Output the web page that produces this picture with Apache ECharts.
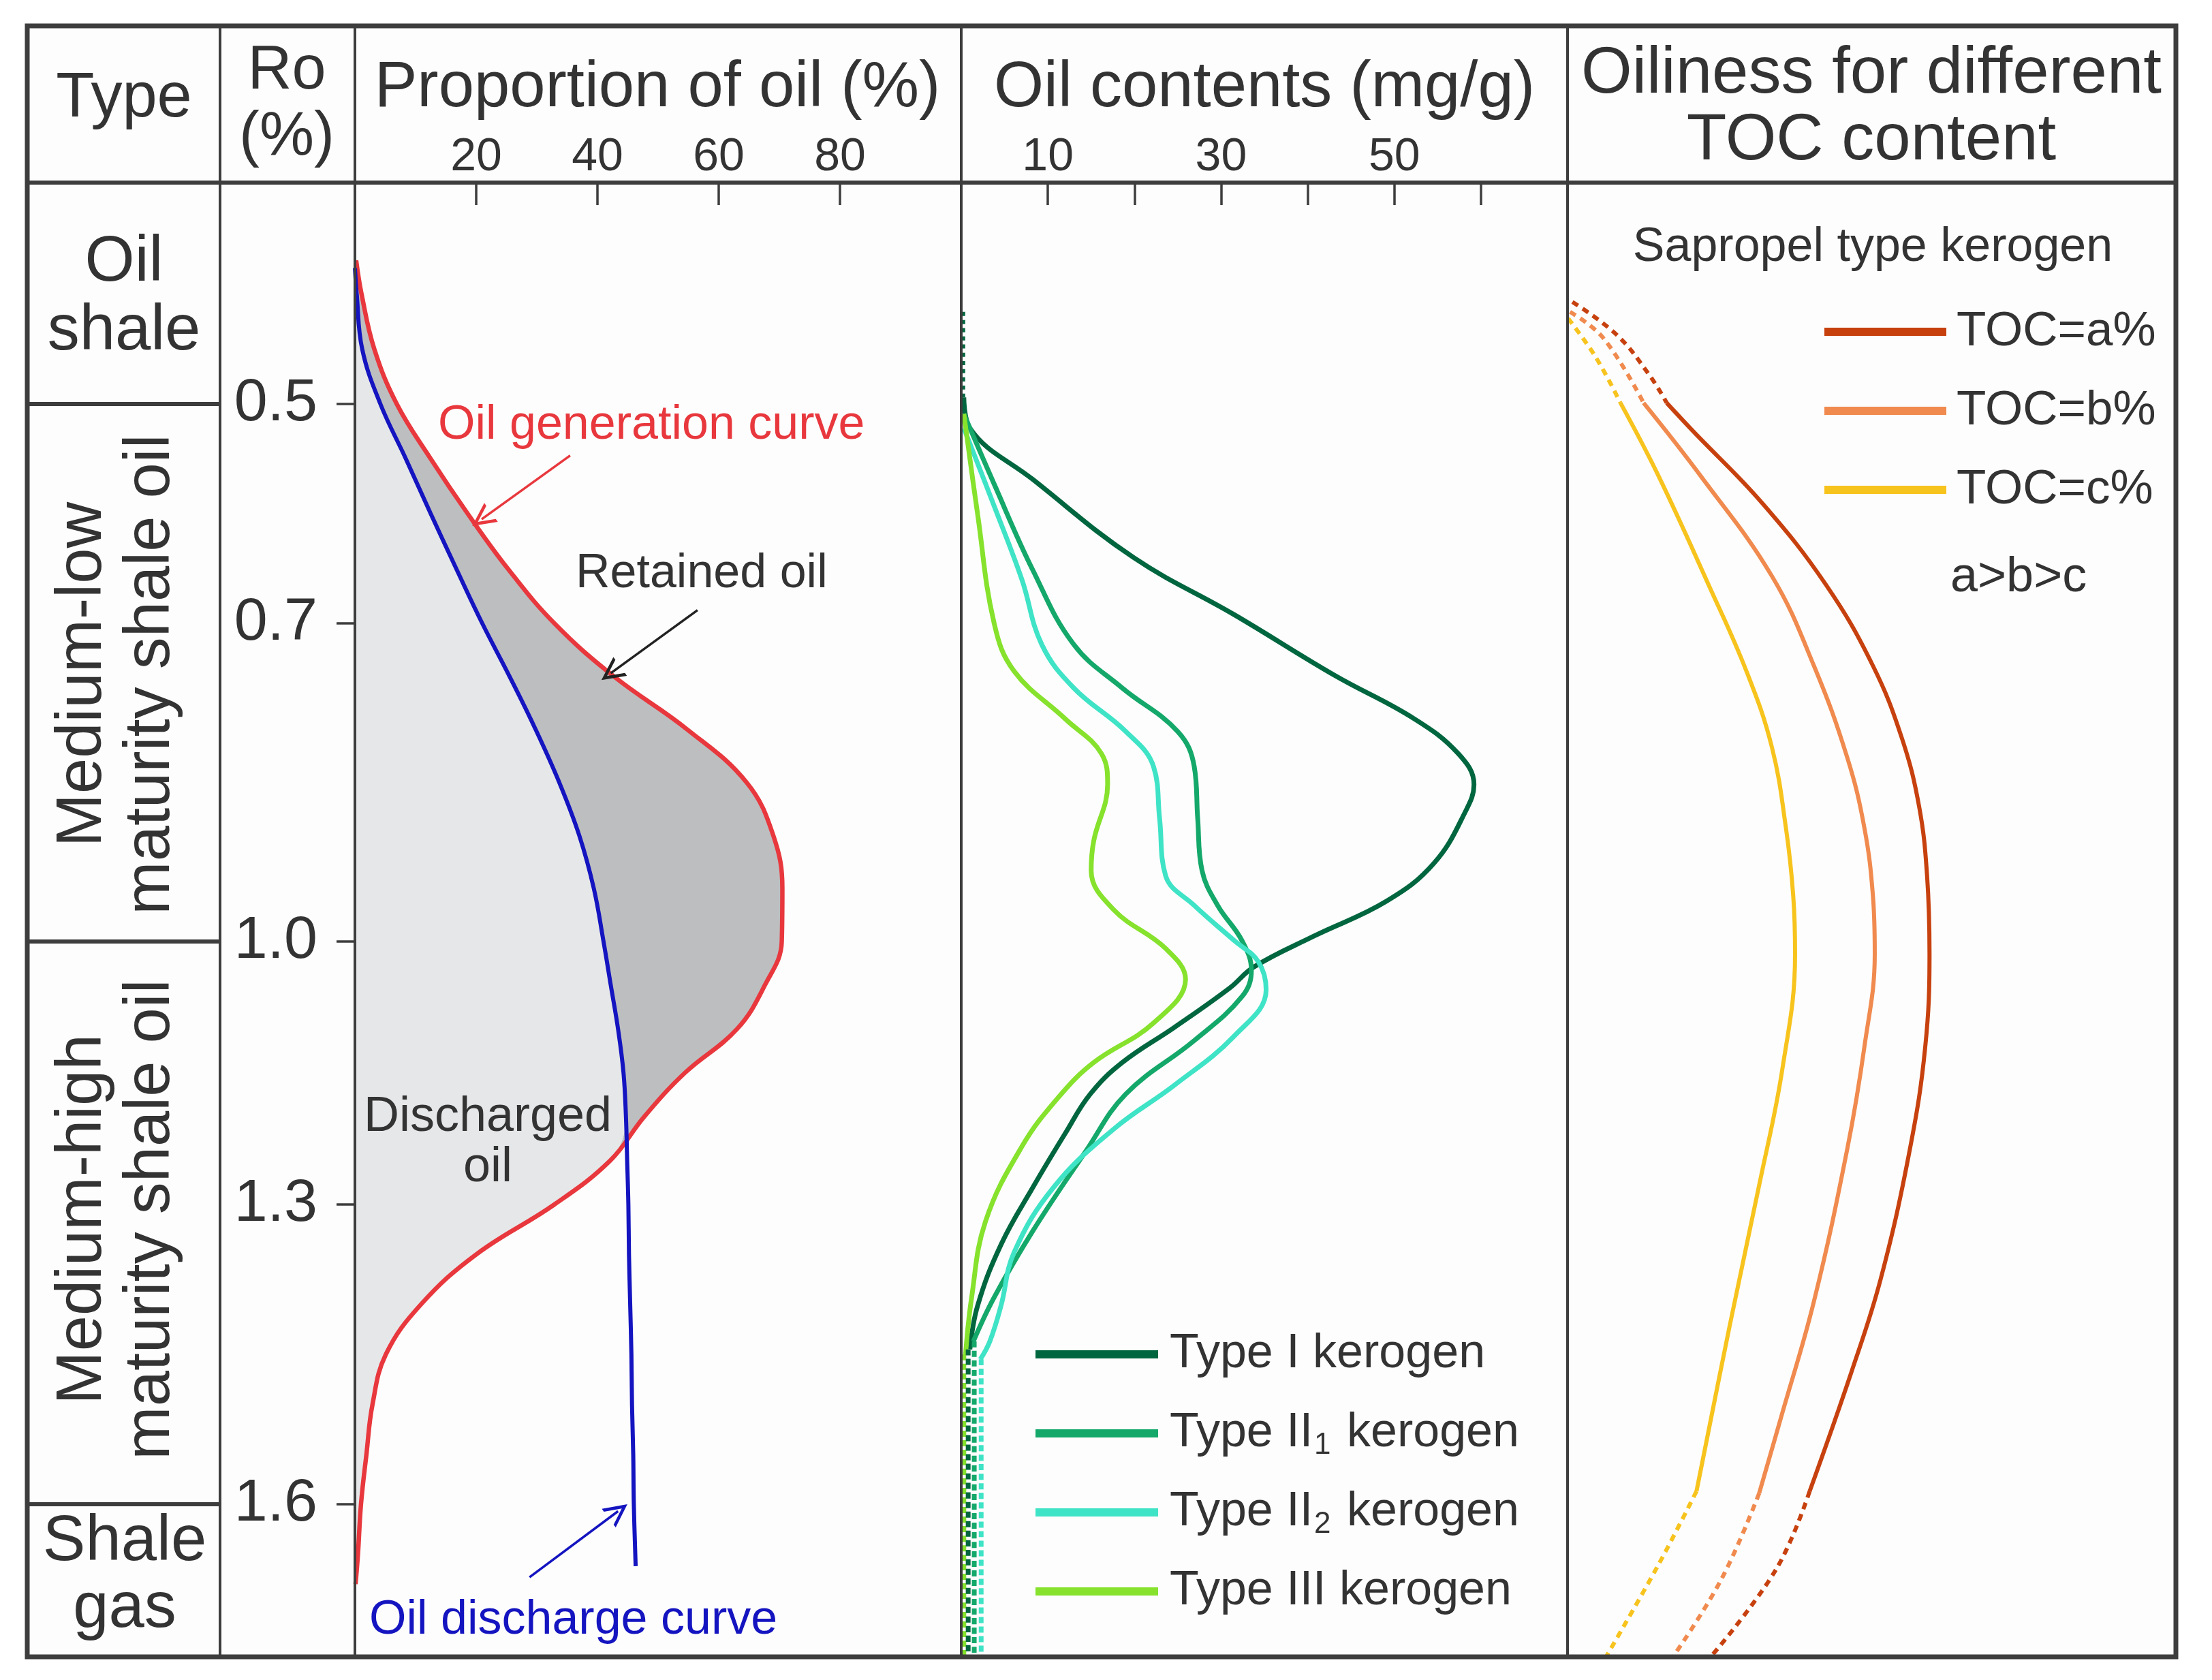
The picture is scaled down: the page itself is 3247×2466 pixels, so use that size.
<!DOCTYPE html>
<html>
<head>
<meta charset="utf-8">
<script src="https://cdn.jsdelivr.net/npm/echarts@6/dist/echarts.min.js"></script>
<style>
html,body{margin:0;padding:0;background:#ffffff;}
#c{width:3247px;height:2466px;}
</style>
</head>
<body>
<div id="c"></div>
<script>
// ---------------- DATA ----------------
const roTicks = [0.5, 0.7, 1.0, 1.3, 1.6];
const proportionTicks = [20, 40, 60, 80];
const contentTicks = [10, 20, 30, 40, 50, 60];
const contentLabels = [10, 30, 50];

// Left panel: proportion of oil (%) vs Ro
const genRo  = [0.369,0.40,0.45,0.50,0.55,0.60,0.65,0.70,0.75,0.80,0.85,0.90,0.95,1.00,1.05,1.10,1.15,1.20,1.25,1.30,1.35,1.40,1.45,1.50,1.55,1.60,1.65,1.68];
const genPct = [0.2,1.1,3.2,6.9,12.5,18.6,25.2,32.9,42.7,54.8,64.6,69.0,70.5,70.4,67.6,63.0,54.4,47.7,42.1,32.9,20.0,10.9,5.1,2.9,1.9,1.0,0.5,0.1];
const disRo  = [0.376,0.40,0.45,0.50,0.55,0.60,0.65,0.70,0.75,0.80,0.85,0.90,0.95,1.00,1.05,1.10,1.15,1.20,1.25,1.30,1.35,1.40,1.45,1.50,1.55,1.60,1.662];
const disPct = [0.0,0.3,1.2,4.2,8.4,12.5,16.7,21.0,25.5,29.8,33.7,37.0,39.4,41.0,42.2,43.4,44.3,44.7,44.9,45.1,45.2,45.4,45.6,45.7,45.9,46.0,46.3];

// Middle panel: oil contents (mg/g) vs Ro  ([Ro, value])
const typeI   = [[0.494,0.3],[0.522,1.0],[0.569,8.3],[0.640,19.9],[0.692,31.5],[0.749,43.1],[0.790,52.3],[0.823,57.4],[0.852,59.2],[0.876,58.3],[0.926,54.6],[0.962,49.1],[0.995,40.7],[1.029,33.8],[1.053,31.0],[1.098,24.6],[1.138,18.6],[1.174,14.9],[1.219,12.0],[1.280,8.3],[1.340,4.6],[1.401,1.9],[1.445,1.0]];
const typeII1 = [[0.509,0.3],[0.573,3.8],[0.652,8.3],[0.720,13.0],[0.761,18.6],[0.802,25.0],[0.835,26.9],[0.884,27.3],[0.933,27.8],[0.966,29.6],[0.999,32.4],[1.033,33.5],[1.063,32.4],[1.113,26.9],[1.174,19.0],[1.239,14.4],[1.326,8.3],[1.393,3.8],[1.437,1.4]];
const typeII2 = [[0.522,0.3],[0.593,3.8],[0.660,7.0],[0.720,9.3],[0.761,13.0],[0.802,19.0],[0.835,22.2],[0.884,22.9],[0.938,23.6],[0.966,26.9],[0.999,31.5],[1.023,34.3],[1.055,35.2],[1.108,31.5],[1.164,24.6],[1.214,17.6],[1.280,10.7],[1.348,6.1],[1.401,4.6],[1.437,3.3],[1.455,2.2]];
const typeIII = [[0.509,0.3],[0.601,1.9],[0.700,3.8],[0.745,6.1],[0.790,12.0],[0.823,16.2],[0.852,16.9],[0.905,15.3],[0.933,15.0],[0.970,17.6],[1.008,23.6],[1.043,25.9],[1.093,22.2],[1.138,15.3],[1.178,11.2],[1.234,7.0],[1.317,2.8],[1.393,1.2],[1.450,0.5]];
const contentTopDash = [[0.416,0.3],[0.494,0.3]];
const tailI   = [[1.445,0.8],[1.753,0.8]];
const tailII1 = [[1.437,1.5],[1.753,1.5]];
const tailII2 = [[1.455,2.3],[1.753,2.3]];
const tailIII = [[1.450,0.3],[1.753,0.3]];

// Right panel: oiliness (relative) vs Ro
const tocA = [[0.499,16.3],[0.524,20.5],[0.591,32.1],[0.665,42.5],[0.740,50.2],[0.809,55.0],[0.873,57.8],[0.938,59.1],[1.014,59.5],[1.120,58.8],[1.236,56.3],[1.374,51.5],[1.467,46.7],[1.587,39.8]];
const tocB = [[0.499,12.5],[0.565,21.8],[0.657,33.6],[0.740,40.5],[0.827,46.0],[0.893,48.8],[0.957,50.2],[1.014,50.5],[1.120,48.8],[1.236,46.0],[1.397,40.5],[1.513,35.1],[1.589,31.5]];
const tocC = [[0.499,8.7],[0.565,14.9],[0.665,23.2],[0.745,29.4],[0.817,33.6],[0.893,35.9],[0.957,37.1],[1.014,37.4],[1.146,35.3],[1.278,31.5],[1.420,26.7],[1.587,21.2]];
const tocAHead = [[0.407,0.8],[0.437,8.1],[0.474,13.5],[0.499,16.3]];
const tocBHead = [[0.416,0.4],[0.440,5.9],[0.499,12.5]];
const tocCHead = [[0.422,0.1],[0.457,4.6],[0.499,8.7]];
const tocATail = [[1.587,39.8],[1.665,34.3],[1.753,23.5]];
const tocBTail = [[1.589,31.5],[1.675,25.3],[1.753,17.3]];
const tocCTail = [[1.587,21.2],[1.661,14.9],[1.753,6.3]];

// ---------------- Ro axis scale (non-uniform, as in the figure) ----------------
const roScaleKnots = [0.5, 0.7, 1.0, 1.3, 1.6];
const roScaleDepth = [325, 647, 1114, 1500, 1940];
const depthMax = 2164;
function warp(ro) {
  const k = roScaleKnots, d = roScaleDepth;
  let i = 0;
  if (ro <= k[0]) i = 0;
  else if (ro >= k[k.length - 1]) i = k.length - 2;
  else { while (ro > k[i + 1]) i++; }
  return d[i] + (ro - k[i]) * (d[i + 1] - d[i]) / (k[i + 1] - k[i]);
}
function interp(xs, ys, x) {
  if (x <= xs[0]) return ys[0];
  if (x >= xs[xs.length - 1]) return ys[ys.length - 1];
  let i = 0; while (x > xs[i + 1]) i++;
  return ys[i] + (x - xs[i]) * (ys[i + 1] - ys[i]) / (xs[i + 1] - xs[i]);
}
const P = (arr) => arr.map(p => [p[1], warp(p[0])]);

// boundary of the discharged-oil area: the smaller of the two curves
const genPts = genRo.map((r, i) => [r, genPct[i]]);
const disPts = disRo.map((r, i) => [r, disPct[i]]);
const lightEdge = genRo.map((r, i) => [r, Math.min(genPct[i], r < disRo[0] ? 0 : interp(disRo, disPct, r))]);

// ---------------- styles ----------------
const F = "'Liberation Sans', Arial, Helvetica, sans-serif";
const INK = '#333333';
const RULE = '#3d3d3d';
const RED = '#e8383d', BLUE = '#1414c0';
const C_I = '#00663f', C_II1 = '#14a86a', C_II2 = '#3fe3c6', C_III = '#86e22c';
const C_A = '#c7410f', C_B = '#f08a4e', C_C = '#f7c31d';
const CHEVRON = 'path://M0,20 L10,0 L20,20 L17,20 L10,6 L3,20 Z';

function lineSeries(name, data, color, width, grid, dashed) {
  return {
    type: 'line', name: name, xAxisIndex: grid, yAxisIndex: grid,
    data: P(data), smooth: 0.4, showSymbol: false, symbol: 'none', silent: true,
    color: color, z: 3,
    lineStyle: { color: color, width: width, type: dashed || 'solid', cap: 'butt' }
  };
}
// area fills drawn against the (vertical) Ro axis, so they fill horizontally from x = 0
function areaSeries(name, data, fill, z) {
  return {
    type: 'line', name: name, xAxisIndex: 0, yAxisIndex: 3,
    data: P(data), smooth: 0.4, showSymbol: false, symbol: 'none', silent: true, z: z,
    lineStyle: { width: 0, opacity: 0 },
    areaStyle: { color: fill, opacity: 1, origin: 'start' }
  };
}

// ---------------- graphic (table frame + texts) ----------------
function txt(text, x, y, size, o) {
  o = o || {};
  return {
    type: 'text', x: x, y: y, rotation: o.rot || 0, z: 30, silent: true,
    style: { text: text, x: 0, y: 0, fontSize: size, fontFamily: F, fill: o.color || INK,
             align: o.align || 'center', verticalAlign: 'middle' }
  };
}
function rule(x1, y1, x2, y2, w) {
  return { type: 'line', z: 20, silent: true, shape: { x1: x1, y1: y1, x2: x2, y2: y2 },
           style: { stroke: RULE, lineWidth: w } };
}
const L = 40, R = 3194, T = 38, B = 2432, HB = 268;
const graphics = [
  { type: 'rect', z: -10, silent: true, shape: { x: L, y: T, width: R - L, height: B - T }, style: { fill: '#fdfdfd' } },
  rule(323, T, 323, B, 4), rule(521, T, 521, B, 4), rule(1411, T, 1411, B, 4), rule(2301, T, 2301, B, 4),
  rule(L, HB, R, HB, 6),
  rule(L, 593, 323, 593, 6), rule(L, 1382, 323, 1382, 6), rule(L, 2208, 323, 2208, 6),
  { type: 'rect', z: 25, silent: true, shape: { x: L, y: T, width: R - L, height: B - T }, style: { fill: null, stroke: RULE, lineWidth: 7 } },
  txt('Type', 182, 146, 92),
  txt('Ro', 421, 105, 90), txt('(%)', 421, 202, 90),
  txt('Proportion of oil (%)', 965, 130, 94),
  txt('Oil contents (mg/g)', 1856, 130, 94),
  txt('Oiliness for different', 2747, 110, 96), txt('TOC content', 2747, 208, 96),
  txt('Oil', 182, 386, 94), txt('shale', 182, 487, 94),
  txt('Medium-low', 122, 990, 94, { rot: Math.PI / 2 }),
  txt('maturity shale oil', 222, 990, 94, { rot: Math.PI / 2 }),
  txt('Medium-high', 122, 1790, 94, { rot: Math.PI / 2 }),
  txt('maturity shale oil', 222, 1790, 94, { rot: Math.PI / 2 }),
  txt('Shale', 183, 2264, 94), txt('gas', 183, 2362, 94),
  txt('Oil generation curve', 643, 625, 70, { align: 'left', color: RED }),
  txt('Retained oil', 845, 843, 70, { align: 'left' }),
  txt('Discharged', 716, 1640, 72), txt('oil', 716, 1714, 72),
  txt('Oil discharge curve', 542, 2379, 70, { align: 'left', color: BLUE }),
  txt('Sapropel type kerogen', 2749, 364, 70),
  txt('a>b>c', 2863, 848, 72, { align: 'left' })
];

// ---------------- option ----------------
const tickLine = { color: RULE, width: 3.5 };
const yHidden = (g, t) => ({ gridIndex: g, type: t || 'value', min: 0, max: depthMax, inverse: true, show: false });

const option = {
  animation: false,
  backgroundColor: '#ffffff',
  grid: [
    { left: 521, top: HB, width: 890, height: B - HB, containLabel: false, outerBoundsMode: 'none' },
    { left: 1411, top: HB, width: 890, height: B - HB, containLabel: false, outerBoundsMode: 'none' },
    { left: 2301, top: HB, width: 893, height: B - HB, containLabel: false, outerBoundsMode: 'none' }
  ],
  xAxis: [
    { gridIndex: 0, type: 'value', position: 'top', min: 0, max: 100,
      axisLine: { show: false }, splitLine: { show: false },
      axisTick: { show: true, inside: true, length: 33, lineStyle: tickLine, customValues: proportionTicks },
      axisLabel: { show: true, margin: 3, fontSize: 68, color: INK, fontFamily: F, customValues: proportionTicks } },
    { gridIndex: 1, type: 'value', position: 'top', min: 0, max: 70,
      axisLine: { show: false }, splitLine: { show: false },
      axisTick: { show: true, inside: true, length: 33, lineStyle: tickLine, customValues: contentTicks },
      axisLabel: { show: true, margin: 3, fontSize: 68, color: INK, fontFamily: F, customValues: contentLabels } },
    { gridIndex: 2, type: 'value', position: 'top', min: 0, max: 100, show: false }
  ],
  yAxis: [
    { gridIndex: 0, type: 'value', min: 0, max: depthMax, inverse: true,
      axisLine: { show: true, lineStyle: { color: RULE, width: 4 } },
      splitLine: { show: false },
      axisTick: { show: true, inside: false, length: 27, lineStyle: tickLine, customValues: roTicks.map(warp) },
      axisLabel: { show: true, margin: 55, fontSize: 88, color: INK, fontFamily: F,
                   customValues: roTicks.map(warp),
                   formatter: function (v) {
                     const r = roTicks.find(t => Math.abs(warp(t) - v) < 1);
                     return r === undefined ? '' : r.toFixed(1);
                   } } },
    yHidden(1), yHidden(2),
    yHidden(0, 'time')
  ],
  legend: [
    { data: ['Type I kerogen', 'Type II1 kerogen', 'Type II2 kerogen', 'Type III kerogen'],
      orient: 'vertical', left: 1520, top: 1948, padding: 0, itemWidth: 180, itemHeight: 12, itemGap: 36,
      icon: 'rect', selectedMode: false,
      textStyle: { fontSize: 70, lineHeight: 80, color: INK, fontFamily: F, padding: [0, 0, 0, 12],
        rich: {
          n: { fontSize: 70, lineHeight: 80, color: INK, fontFamily: F },
          s: { fontSize: 44, lineHeight: 44, color: INK, fontFamily: F, verticalAlign: 'bottom', padding: [0, 4, 0, 2] }
        } },
      formatter: function (name) {
        if (name === 'Type II1 kerogen') return '{n|Type II}{s|1}{n| kerogen}';
        if (name === 'Type II2 kerogen') return '{n|Type II}{s|2}{n| kerogen}';
        return '{n|' + name + '}';
      } },
    { data: ['TOC=a%', 'TOC=b%', 'TOC=c%'],
      orient: 'vertical', left: 2678, top: 447, padding: 0, itemWidth: 179, itemHeight: 12, itemGap: 36,
      icon: 'rect', selectedMode: false,
      textStyle: { fontSize: 71, lineHeight: 80, color: INK, fontFamily: F, padding: [0, 0, 0, 10] } }
  ],
  graphic: { elements: graphics },
  series: [
    areaSeries('Retained oil', genPts, '#bdbec0', 1),
    areaSeries('Discharged oil', lightEdge, '#e6e7e9', 1.5),
    Object.assign(lineSeries('Oil generation curve', genPts, RED, 6.5, 0), {
      markLine: {
        silent: true, symbol: ['none', CHEVRON], symbolSize: [34, 34],
        label: { show: false }, emphasis: { disabled: true },
        lineStyle: { type: 'solid', width: 3.5 },
        data: [
          [{ coord: [35.5, warp(0.547)], lineStyle: { color: RED, type: 'solid', width: 3.5 }, itemStyle: { color: RED } },
           { coord: [20.9, warp(0.605)] }],
          [{ coord: [56.5, warp(0.688)], lineStyle: { color: '#222222', type: 'solid', width: 3.5 }, itemStyle: { color: '#222222' } },
           { coord: [42.2, warp(0.747)] }],
          [{ coord: [28.8, warp(1.673)], lineStyle: { color: BLUE, type: 'solid', width: 3.5 }, itemStyle: { color: BLUE } },
           { coord: [43.4, warp(1.607)] }]
        ]
      }
    }),
    lineSeries('Oil discharge curve', disPts, BLUE, 6, 0),

    lineSeries('Type I kerogen', typeI, C_I, 7, 1),
    lineSeries('Type II1 kerogen', typeII1, C_II1, 7, 1),
    lineSeries('Type II2 kerogen', typeII2, C_II2, 7, 1),
    lineSeries('Type III kerogen', typeIII, C_III, 7, 1),
    lineSeries('top-dash', contentTopDash, C_I, 4, 1, [6, 6]),
    lineSeries('tail-III', tailIII, C_III, 7, 1, [9, 5]),
    lineSeries('tail-I', tailI, C_I, 7, 1, [9, 5]),
    lineSeries('tail-II1', tailII1, C_II1, 7, 1, [9, 5]),
    lineSeries('tail-II2', tailII2, C_II2, 7, 1, [9, 5]),

    lineSeries('TOC=a%', tocA, C_A, 6, 2),
    lineSeries('TOC=b%', tocB, C_B, 6, 2),
    lineSeries('TOC=c%', tocC, C_C, 6, 2),
    lineSeries('a-head', tocAHead, C_A, 6, 2, [10, 8]),
    lineSeries('b-head', tocBHead, C_B, 6, 2, [10, 8]),
    lineSeries('c-head', tocCHead, C_C, 6, 2, [10, 8]),
    lineSeries('a-tail', tocATail, C_A, 6, 2, [10, 8]),
    lineSeries('b-tail', tocBTail, C_B, 6, 2, [10, 8]),
    lineSeries('c-tail', tocCTail, C_C, 6, 2, [10, 8])
  ]
};

const chart = echarts.init(document.getElementById('c'), null, { renderer: 'canvas', width: 3247, height: 2466 });
chart.setOption(option);
</script>
</body>
</html>
